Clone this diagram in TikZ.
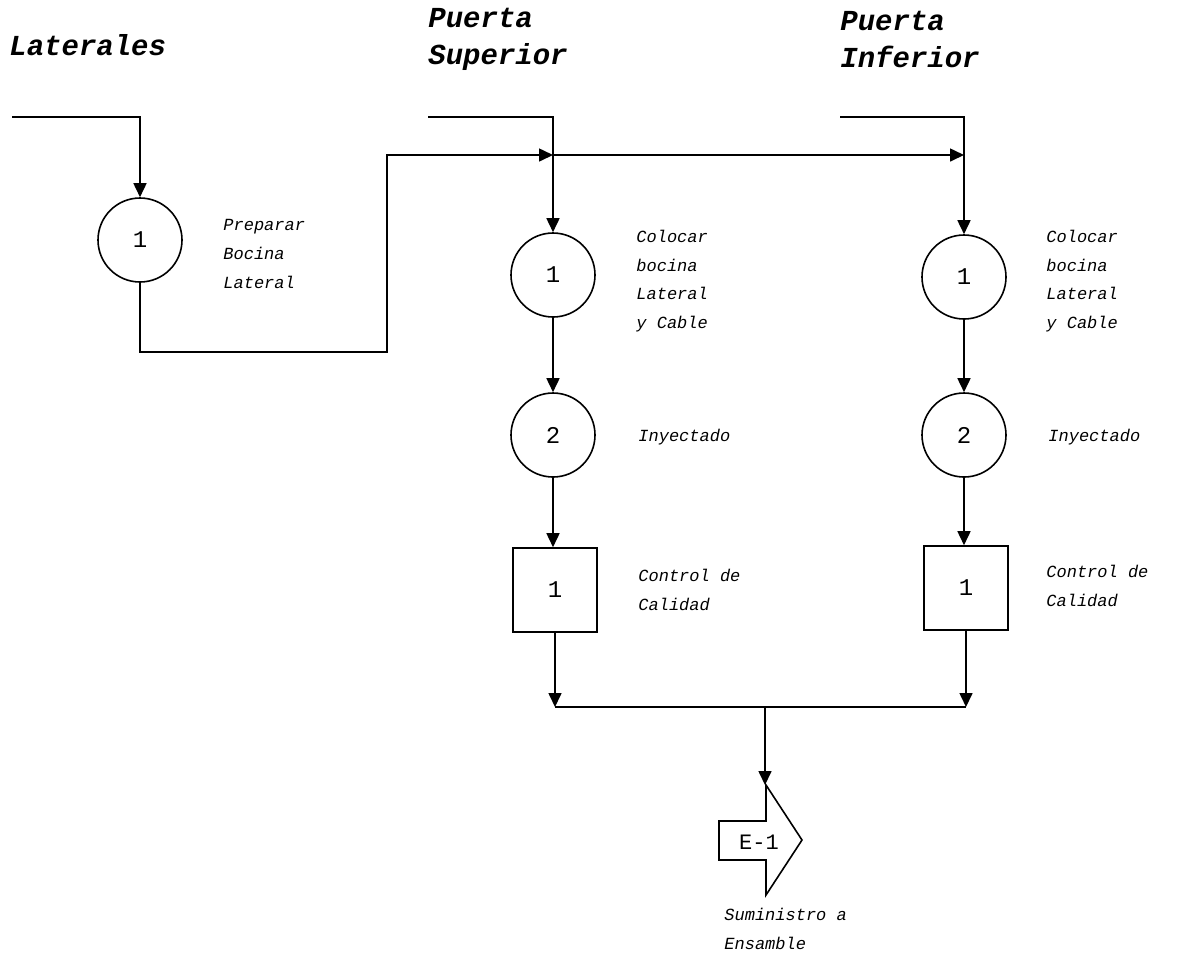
\documentclass[tikz,border=0pt]{standalone}
\usepackage{fontspec}
\setmonofont{Liberation Mono}
\usetikzlibrary{arrows.meta}
\begin{document}
\begin{tikzpicture}[x=0.5pt,y=-0.5pt,
  flow/.style={line width=0.8pt,-{Triangle[length=7pt,width=6.5pt]}},
  plain/.style={line width=0.8pt},
  opcircle/.style={draw,line width=0.8pt,circle,minimum size=42pt,inner sep=0pt,
    font=\ttfamily\fontsize{12}{12}\selectfont},
  inspbox/.style={draw,line width=0.8pt,rectangle,minimum size=42pt,inner sep=0pt,
    font=\ttfamily\fontsize{12}{12}\selectfont},
  lbl/.style={font=\ttfamily\itshape\fontsize{8.5}{14.4}\selectfont,align=left,anchor=west,inner sep=0pt},
  heading/.style={font=\ttfamily\bfseries\itshape\fontsize{14.5}{18.5}\selectfont,align=left,anchor=west,inner sep=0pt},
  codefont/.style={font=\ttfamily\fontsize{11}{11}\selectfont,inner sep=0pt}]

\fill[white] (0,0) rectangle (1194,955);
\useasboundingbox (0,0) rectangle (1194,955);

% headings
\node[heading] (tLat) at (9,45) {Laterales};
\node[heading] (tSup) at (428,39) {Puerta\\Superior};
\node[heading] (tInf) at (840,39) {Puerta\\Inferior};

% lateral horn preparation
\coordinate (latIn) at (12,117);
\node[opcircle] (L1) at (140,240) {1};
\node[lbl] (lL1) at (223,254) {Preparar\\Bocina\\Lateral};
\draw[flow] (latIn) -| (L1.north);

\coordinate (bend1) at (387,352);
\coordinate (supJoin) at (553,155);
\coordinate (infJoin) at (964,155);
\draw[flow] (L1.south) |- (bend1) |- (supJoin);
\draw[flow] (supJoin) -- (infJoin);

% upper door line
\coordinate (supIn) at (428,117);
\node[opcircle] (S1) at (553,275) {1};
\node[opcircle] (S2) at (553,435) {2};
\node[inspbox] (SQ) at (555,590) {1};
\node[lbl] (lS1) at (636,281) {Colocar\\bocina\\Lateral\\y Cable};
\node[lbl] (lS2) at (638,437) {Inyectado};
\node[lbl] (lSQ) at (638,590) {Control de\\Calidad};
\draw[flow] (supIn) -| (S1.north);
\draw[flow] (S1) -- (S2);
\draw[flow] (S2) -- (S2 |- SQ.north);
\coordinate (supOut) at (555,707);
\draw[flow] (SQ) -- (supOut);

% lower door line
\coordinate (infIn) at (840,117);
\node[opcircle] (I1) at (964,277) {1};
\node[opcircle] (I2) at (964,435) {2};
\node[inspbox] (IQ) at (966,588) {1};
\node[lbl] (lI1) at (1046,281) {Colocar\\bocina\\Lateral\\y Cable};
\node[lbl] (lI2) at (1048,437) {Inyectado};
\node[lbl] (lIQ) at (1046,586) {Control de\\Calidad};
\draw[flow] (infIn) -| (I1.north);
\draw[flow] (I1) -- (I2);
\draw[flow] (I2) -- (I2 |- IQ.north);
\coordinate (infOut) at (966,707);
\draw[flow] (IQ) -- (infOut);

% merge and delivery to assembly
\draw[plain] (supOut) -- (infOut);
\coordinate (merge) at (765,707);
\coordinate (e1top) at (765,785);
\draw[plain,fill=white] (719,821) -- (766,821) -- (766,785) -- (802,840)
  -- (766,895) -- (766,860) -- (719,860) -- cycle;
\draw[flow] (merge) -- (e1top);
\node[codefont] (e1) at (759,842) {E-1};
\node[lbl] (lE1) at (724,929) {Suministro a\\Ensamble};

\end{tikzpicture}
\end{document}
